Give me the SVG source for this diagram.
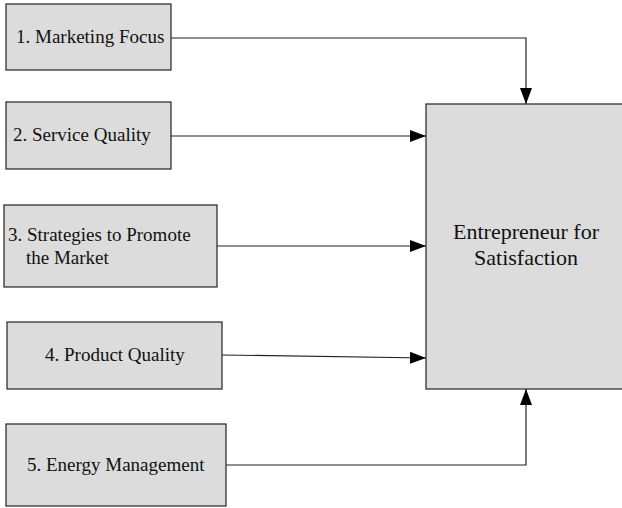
<svg xmlns="http://www.w3.org/2000/svg" width="622" height="508" viewBox="0 0 622 508">
<defs>
<style>
.box{fill:#dcdcdc;stroke:#222;stroke-width:1.2}
.t{font-family:"Liberation Serif","Times New Roman",serif;font-size:19px;fill:#111}
.big{font-family:"Liberation Serif","Times New Roman",serif;font-size:22px;fill:#111;text-anchor:middle}
.c{fill:none;stroke:#222;stroke-width:1.2}
</style>
<marker id="ah" markerWidth="16" markerHeight="12" refX="16" refY="6" orient="auto" markerUnits="userSpaceOnUse">
<path d="M0,0 L16,6 L0,12 Z" fill="#000"/>
</marker>
</defs>
<rect width="622" height="508" fill="#fff"/>
<g id="connectors">
<path class="c" d="M171,38 H526 V104" marker-end="url(#ah)"/>
<path class="c" d="M171,136 H426" marker-end="url(#ah)"/>
<path class="c" d="M217,246 H426" marker-end="url(#ah)"/>
<path class="c" d="M222,355 L426,358" marker-end="url(#ah)"/>
<path class="c" d="M226,465 H526 V389" marker-end="url(#ah)"/>
</g>
<g id="n1"><rect class="box" x="6" y="4" width="165" height="66"/><text class="t" x="16" y="43">1. Marketing Focus</text></g>
<g id="n2"><rect class="box" x="6" y="102" width="165" height="67"/><text class="t" x="13" y="141">2. Service Quality</text></g>
<g id="n3"><rect class="box" x="4" y="205" width="213" height="82"/><text class="t" x="8" y="241">3. Strategies to Promote</text><text class="t" x="26" y="264">the Market</text></g>
<g id="n4"><rect class="box" x="7" y="322" width="215" height="67"/><text class="t" x="45" y="361">4. Product Quality</text></g>
<g id="n5"><rect class="box" x="6" y="424" width="220" height="82"/><text class="t" x="27" y="471">5. Energy Management</text></g>
<g id="n6"><rect class="box" x="426" y="104" width="200" height="285"/><text class="big" x="526" y="239">Entrepreneur for</text><text class="big" x="526" y="265">Satisfaction</text></g>
</svg>
